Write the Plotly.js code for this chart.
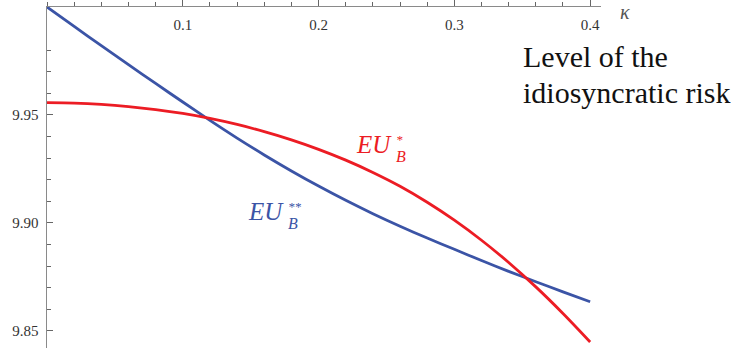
<!DOCTYPE html>
<html>
<head>
<meta charset="utf-8">
<script src="https://cdn.plot.ly/plotly-3.0.1.min.js"></script>
<style>html,body{margin:0;padding:0;background:#fff;}#chart{width:731px;height:356px;}</style>
</head>
<body>
<div id="chart"></div>
<script>
// Level of the idiosyncratic risk (kappa)
const kappa = [0, 0.02, 0.04, 0.06, 0.08, 0.10, 0.12, 0.14, 0.16, 0.18, 0.20,
               0.22, 0.24, 0.26, 0.28, 0.30, 0.32, 0.34, 0.36, 0.38, 0.40];
// EU_B^* (red)
const euStar = [9.9557, 9.9555, 9.9549, 9.9539, 9.9525, 9.9507, 9.9484, 9.9456, 9.9423, 9.9385, 9.9341,
                9.9291, 9.9234, 9.9170, 9.9096, 9.9013, 9.8920, 9.8817, 9.8704, 9.8581, 9.8449];
// EU_B^** (blue)
const euStarStar = [10.0000, 9.9910, 9.9821, 9.9733, 9.9646, 9.9560, 9.9475, 9.9393, 9.9315, 9.9241, 9.9171,
                    9.9105, 9.9043, 9.8985, 9.8930, 9.8878, 9.8826, 9.8776, 9.8728, 9.8681, 9.8635];
const xTicks = [0.1, 0.2, 0.3, 0.4];
const yTicks = [9.85, 9.90, 9.95];

const RED = '#ec1c24', BLUE = '#3b54a6';
const serif = 'Liberation Serif';

const traces = [
  {x: kappa, y: euStarStar, mode: 'lines', line: {color: BLUE, width: 2.8, shape: 'spline', smoothing: 0.8}, cliponaxis: false, hoverinfo: 'skip'},
  {x: kappa, y: euStar, mode: 'lines', line: {color: RED, width: 2.8, shape: 'spline', smoothing: 0.8}, cliponaxis: false, hoverinfo: 'skip'}
];

function labelParts(x, y, sup, color, dyStack) {
  return [
    {x: x, y: y, xref: 'x', yref: 'y', text: 'EU', showarrow: false,
     xanchor: 'right', yanchor: 'middle', xshift: -1, yshift: 0, borderpad: 0,
     font: {family: serif, size: 25, color: color, style: 'italic'}},
    {x: x, y: y, xref: 'x', yref: 'y',
     text: '<span style="font-size:13px">' + sup + '</span><br><span style="font-size:16px">B</span>',
     showarrow: false, xanchor: 'left', yanchor: 'middle', align: 'left', xshift: 1, yshift: dyStack, borderpad: 0,
     font: {family: serif, size: 13.5, color: color, style: 'italic'}}
  ];
}

const layout = {
  width: 731, height: 356,
  margin: {l: 47, r: 130, t: 7, b: 8},
  paper_bgcolor: '#fff', plot_bgcolor: '#fff',
  showlegend: false,
  xaxis: {
    range: [0, 0.408], side: 'top', anchor: 'y',
    showgrid: false, zeroline: false, showline: true, linecolor: '#8a8a8a', linewidth: 1.5,
    tickmode: 'array', tickvals: xTicks, ticktext: xTicks.map(v => v.toFixed(1)),
    ticks: 'outside', ticklen: 6, tickwidth: 1, tickcolor: '#666',
    ticklabelposition: 'inside', ticklabelstandoff: 12,
    minor: {ticks: 'outside', ticklen: 3.5, tickwidth: 1, tickcolor: '#666', dtick: 0.02, tick0: 0, showgrid: false},
    tickfont: {family: serif, size: 15, color: '#333'}
  },
  yaxis: {
    range: [9.8421, 10.0],
    showgrid: false, zeroline: false, showline: true, linecolor: '#8a8a8a', linewidth: 1.5,
    tickmode: 'array', tickvals: yTicks, ticktext: yTicks.map(v => v.toFixed(2)),
    ticks: 'inside', ticklen: 6, tickwidth: 1, tickcolor: '#666', ticklabelstandoff: 4,
    minor: {ticks: 'inside', ticklen: 4, tickwidth: 1, tickcolor: '#666', dtick: 0.01, tick0: 9.85, showgrid: false},
    tickfont: {family: serif, size: 15, color: '#333'}
  },
  annotations: [
    {xref: 'paper', yref: 'paper', x: 1.03, y: 0.985, text: 'κ', showarrow: false,
     xanchor: 'left', yanchor: 'middle', font: {family: serif, size: 20, color: '#555', style: 'italic'}},
    {xref: 'paper', yref: 'paper', x: 0.856, y: 0.8534, text: 'Level of the', showarrow: false,
     xanchor: 'left', yanchor: 'middle', align: 'left', font: {family: serif, size: 30, color: '#111'}},
    {xref: 'paper', yref: 'paper', x: 0.856, y: 0.7507, text: 'idiosyncratic risk', showarrow: false,
     xanchor: 'left', yanchor: 'middle', align: 'left', font: {family: serif, size: 30, color: '#111'}}
  ].concat(labelParts(0.2555, 9.93634, '*', RED, -4))
   .concat(labelParts(0.1759, 9.90509, '**', BLUE, -4))
};

Plotly.newPlot('chart', traces, layout, {staticPlot: true, displayModeBar: false});
</script>
</body>
</html>
